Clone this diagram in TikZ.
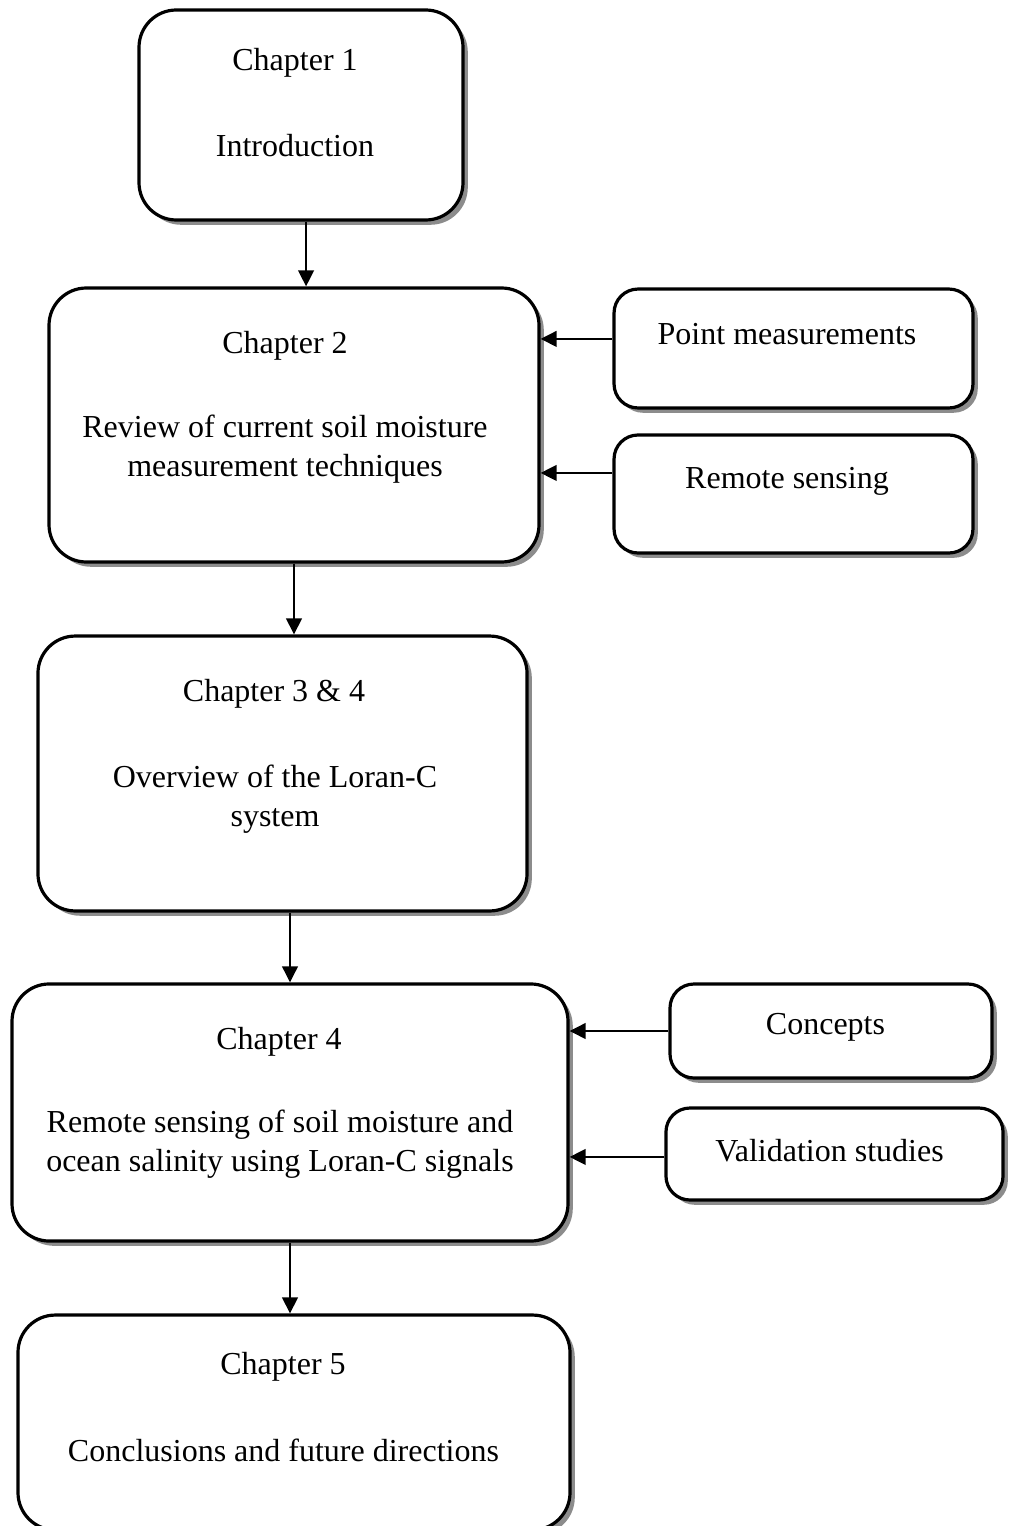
\documentclass[tikz,border=0pt]{standalone}
\usepackage{fontspec}
\setmainfont{Liberation Serif}
\usetikzlibrary{arrows.meta,positioning,shadows}
\tikzset{%
  chapter box/.style={%
    draw,
    line width=1.2pt,
    fill=white,
    rounded corners=14pt,
    drop shadow={shadow xshift=1.8pt,shadow yshift=-1.8pt,fill=black!45,opacity=1}
  }
}
\tikzset{%
  topic box/.style={%
    chapter box,
    rounded corners=9pt
  }
}
\tikzset{%
  box text/.style={%
    inner sep=0pt,
    align=center,
    font=\fontsize{12}{14.6}\selectfont
  }
}
\tikzset{%
  flow/.style={%
    line width=1pt,
    -{Triangle[length=6pt,width=5.8pt]}
  }
}

\begin{document}
\begin{tikzpicture}[x=0.375pt,y=-0.375pt]
  \useasboundingbox (0,0) rectangle (1017,1526);
  % boxes
  \node [chapter box, minimum width=121.5pt, minimum height=78.75pt] (ch1) at (301,115) {};
  \node [chapter box, minimum width=183.75pt, minimum height=102.75pt] (ch2) at (294,425) {};
  \node [topic box, minimum width=134.6pt, minimum height=44.6pt] (point) at (793.5,348.5) {};
  \node [topic box, minimum width=134.6pt, minimum height=44.25pt] (remote) at (793.5,494) {};
  \node [chapter box, minimum width=183.4pt, minimum height=103.1pt] (ch3) at (282.5,773.5) {};
  \node [chapter box, minimum width=208.5pt, minimum height=96.4pt] (ch4) at (290,1112.5) {};
  \node [topic box, minimum width=120.75pt, minimum height=35.25pt] (concepts) at (831,1031) {};
  \node [topic box, minimum width=126.4pt, minimum height=34.5pt] (valid) at (834.5,1154) {};
  \node [chapter box, minimum width=207pt, minimum height=80.6pt] (ch5) at (294,1422.5) {};
  % texts
  \node [box text] (ch1a) at (295,63) {Chapter 1};
  \node [box text] (ch1b) at (295,146) {Introduction};
  \node [box text] (ch2a) at (285,346) {Chapter 2};
  \node [box text] (ch2b) at (285,449.5) {Review of current soil moisture\\measurement techniques};
  \node [box text] (pointt) at (787,334) {Point measurements};
  \node [box text] (remotet) at (787,481) {Remote sensing};
  \node [box text] (ch3a) at (274,694) {Chapter 3 \& 4};
  \node [box text] (ch3b) at (275,799) {Overview of the Loran-C\\system};
  \node [box text] (ch4a) at (279,1042) {Chapter 4};
  \node [box text] (ch4b) at (280,1144) {Remote sensing of soil moisture and\\ocean salinity using Loran-C signals};
  \node [box text] (conceptst) at (825.5,1027) {Concepts};
  \node [box text] (validt) at (829.5,1151) {Validation studies};
  \node [box text] (ch5a) at (283,1367) {Chapter 5};
  \node [box text] (ch5b) at (283.5,1450) {Conclusions and future directions};
  % arrows
  \draw [flow] ([xshift=1.9pt]ch1.south) -- ([xshift=1.9pt]ch1.south |- ch2.north);
  \draw [flow] (ch2.south) -- (ch2.south |- ch3.north);
  \draw [flow] (ch4.north |- ch3.south) -- (ch4.north);
  \draw [flow] (ch4.south) -- (ch4.south |- ch5.north);
  \draw [flow] ([yshift=3.6pt]point.west) -- ([yshift=3.6pt]point.west -| ch2.east);
  \draw [flow] ([yshift=7.9pt]remote.west) -- ([yshift=7.9pt]remote.west -| ch2.east);
  \draw [flow] (concepts.west) -- (concepts.west -| ch4.east);
  \draw [flow] ([yshift=-1.1pt]valid.west) -- ([yshift=-1.1pt]valid.west -| ch4.east);
\end{tikzpicture}
\end{document}
